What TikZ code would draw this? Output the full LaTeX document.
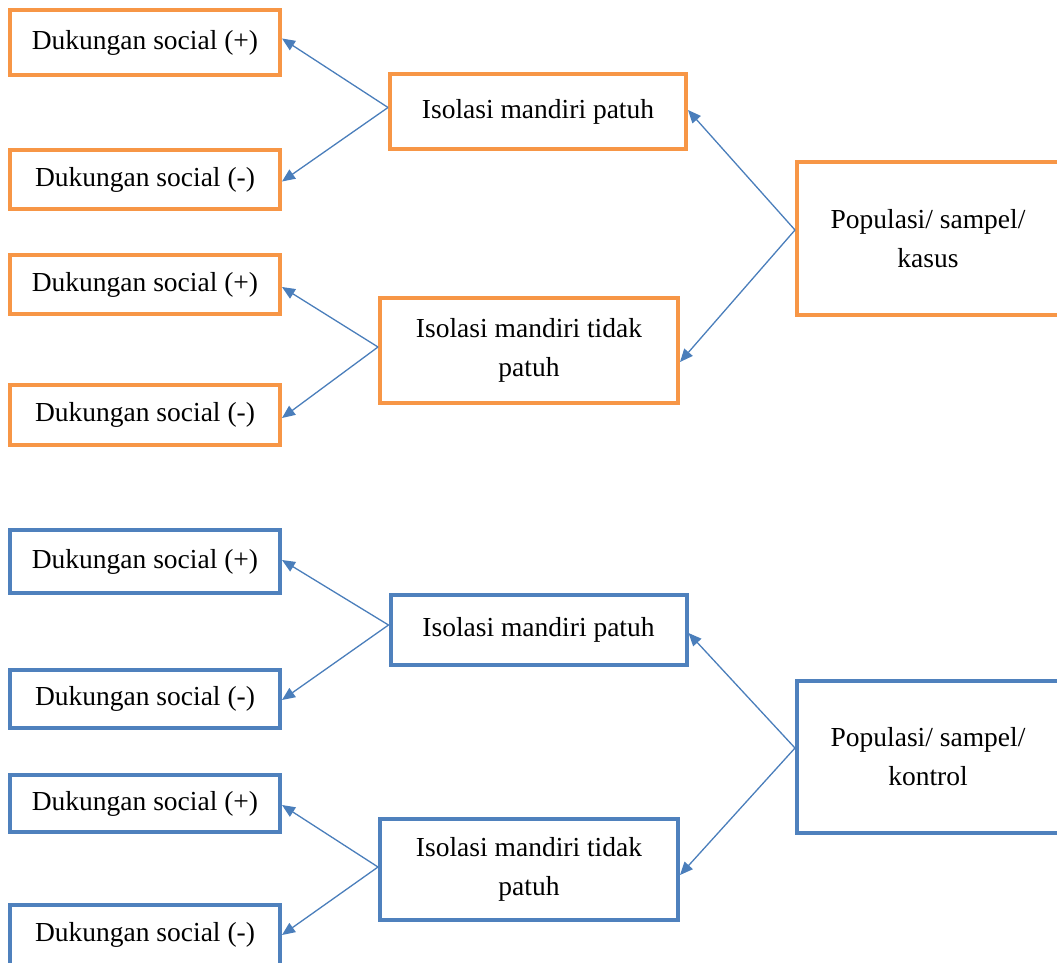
\documentclass[tikz,border=0pt]{standalone}
\usepackage{fontspec}
\setmainfont{Liberation Serif}
\usetikzlibrary{arrows.meta}
\definecolor{orbox}{HTML}{F79646}
\definecolor{blbox}{HTML}{4F81BD}
\definecolor{arr}{HTML}{4A7EBB}
\begin{document}
\begin{tikzpicture}[x=1pt,y=-1pt,
  box/.style={draw, line width=4pt, fill=white, inner sep=2pt, align=center,
    font=\fontsize{27.5}{39}\selectfont, text=black},
  obox/.style={box, draw=orbox},
  bbox/.style={box, draw=blbox},
  link/.style={draw=arr, line width=1.3pt, -{Triangle[length=13pt,width=11pt]}}]
\useasboundingbox (0,0) rectangle (1057,962);
% ---- top group (orange)
\node[obox, minimum width=270pt, minimum height=65pt] (A1) at (145,42.5) {Dukungan social (+)};
\node[obox, minimum width=270pt, minimum height=59pt] (A2) at (145,179.5) {Dukungan social (-)};
\node[obox, minimum width=270pt, minimum height=59pt] (A3) at (145,284.5) {Dukungan social (+)};
\node[obox, minimum width=270pt, minimum height=60pt] (A4) at (145,415) {Dukungan social (-)};
\node[obox, minimum width=296pt, minimum height=75pt] (B1) at (538,111.5) {Isolasi mandiri patuh};
\node[obox, minimum width=298pt, minimum height=105pt] (B2) at (529,350.5) {Isolasi mandiri tidak\\patuh};
\node[obox, minimum width=262pt, minimum height=153pt] (C) at (928,238.5) {Populasi/ sampel/\\kasus};
% ---- bottom group (blue)
\node[bbox, minimum width=270pt, minimum height=63pt] (A5) at (145,561.5) {Dukungan social (+)};
\node[bbox, minimum width=270pt, minimum height=58pt] (A6) at (145,699) {Dukungan social (-)};
\node[bbox, minimum width=270pt, minimum height=57pt] (A7) at (145,803.5) {Dukungan social (+)};
\node[bbox, minimum width=270pt, minimum height=60pt] (A8) at (145,935) {Dukungan social (-)};
\node[bbox, minimum width=296pt, minimum height=70pt] (B3) at (538.5,630) {Isolasi mandiri patuh};
\node[bbox, minimum width=298pt, minimum height=101pt] (B4) at (529,869.5) {Isolasi mandiri tidak\\patuh};
\node[bbox, minimum width=262pt, minimum height=152pt] (C2) at (928,757) {Populasi/ sampel/\\kontrol};
% ---- connectors top
\draw[link] ([yshift=4pt]B1.west) -- ([yshift=4pt]A1.east);
\draw[link] ([yshift=4pt]B1.west) -- ([yshift=-2pt]A2.east);
\draw[link] ([yshift=3.5pt]B2.west) -- ([yshift=-2.5pt]A3.east);
\draw[link] ([yshift=3.5pt]B2.west) -- ([yshift=-3pt]A4.east);
\draw[link] ([yshift=8.5pt]C.west) -- ([yshift=1.5pt]B1.east);
\draw[link] ([yshift=8.5pt]C.west) -- ([yshift=-11.5pt]B2.east);
% ---- connectors bottom
\draw[link] ([yshift=5pt]B3.west) -- ([yshift=1.5pt]A5.east);
\draw[link] ([yshift=5pt]B3.west) -- ([yshift=-1pt]A6.east);
\draw[link] ([yshift=2.5pt]B4.west) -- ([yshift=-1.5pt]A7.east);
\draw[link] ([yshift=2.5pt]B4.west) -- (A8.east);
\draw[link] ([yshift=9pt]C2.west) -- ([yshift=-3pt]B3.east);
\draw[link] ([yshift=9pt]C2.west) -- ([yshift=-5.5pt]B4.east);
\end{tikzpicture}
\end{document}
